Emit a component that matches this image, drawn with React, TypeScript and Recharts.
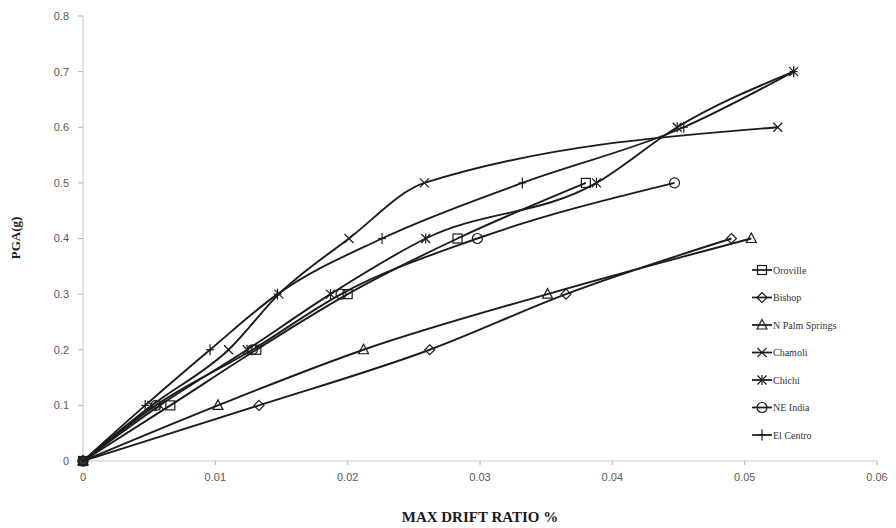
import { LineChart, Line, XAxis, YAxis, Label } from "recharts";

const xTicks = [0, 0.01, 0.02, 0.03, 0.04, 0.05, 0.06];
const yTicks = [0, 0.1, 0.2, 0.3, 0.4, 0.5, 0.6, 0.7, 0.8];

// PGA levels (g) shared by every record, drift ratios
const pga = [0, 0.1, 0.2, 0.3, 0.4, 0.5, 0.6, 0.7];
const orovilleDrift = [0, 0.0066, 0.0131, 0.02, 0.0283, 0.038];
const bishopDrift = [0, 0.0133, 0.0262, 0.0365, 0.049];
const palmSpringsDrift = [0, 0.0102, 0.0212, 0.0351, 0.0505];
const chamoliDrift = [0, 0.0052, 0.011, 0.0148, 0.0201, 0.0258, 0.0525];
const chichiDrift = [0, 0.0058, 0.0124, 0.0187, 0.0259, 0.0388, 0.0449, 0.0537];
const neIndiaDrift = [0, 0.0055, 0.0128, 0.0195, 0.0298, 0.0447];
const elCentroDrift = [0, 0.0047, 0.0096, 0.0147, 0.0226, 0.0332, 0.0454, 0.0537];

type Shape = "square" | "diamond" | "triangle" | "x" | "star" | "circle" | "plus";
type Pt = { x: number; y: number };

const toPts = (drift: number[]): Pt[] => drift.map((d, i) => ({ x: d, y: pga[i] }));

const series: { name: string; shape: Shape; data: Pt[] }[] = [
  { name: "Oroville", shape: "square", data: toPts(orovilleDrift) },
  { name: "Bishop", shape: "diamond", data: toPts(bishopDrift) },
  { name: "N Palm Springs", shape: "triangle", data: toPts(palmSpringsDrift) },
  { name: "Chamoli", shape: "x", data: toPts(chamoliDrift) },
  { name: "Chichi", shape: "star", data: toPts(chichiDrift) },
  { name: "NE India", shape: "circle", data: toPts(neIndiaDrift) },
  { name: "El Centro", shape: "plus", data: toPts(elCentroDrift) },
];

const INK = "#1c1c1c";
const SERIF = "'Liberation Serif', 'DejaVu Serif', serif";
const SANS = "'Liberation Sans Narrow', 'Liberation Sans', sans-serif";

function Marker({ shape, cx, cy }: { shape: Shape; cx: number; cy: number }) {
  const s = { stroke: INK, strokeWidth: 1.2, fill: "none" };
  switch (shape) {
    case "square":
      return <rect x={cx - 4.5} y={cy - 4.5} width={9} height={9} {...s} />;
    case "diamond":
      return <polygon points={`${cx},${cy - 5} ${cx + 5},${cy} ${cx},${cy + 5} ${cx - 5},${cy}`} {...s} />;
    case "triangle":
      return <polygon points={`${cx},${cy - 5.5} ${cx + 5},${cy + 4} ${cx - 5},${cy + 4}`} {...s} />;
    case "circle":
      return <circle cx={cx} cy={cy} r={5} {...s} />;
    case "x":
      return (
        <g {...s}>
          <line x1={cx - 4.5} y1={cy - 4.5} x2={cx + 4.5} y2={cy + 4.5} />
          <line x1={cx - 4.5} y1={cy + 4.5} x2={cx + 4.5} y2={cy - 4.5} />
        </g>
      );
    case "star":
      return (
        <g {...s}>
          <line x1={cx - 4.5} y1={cy - 4.5} x2={cx + 4.5} y2={cy + 4.5} />
          <line x1={cx - 4.5} y1={cy + 4.5} x2={cx + 4.5} y2={cy - 4.5} />
          <line x1={cx} y1={cy - 5} x2={cx} y2={cy + 5} />
        </g>
      );
    case "plus":
      return (
        <g {...s}>
          <line x1={cx} y1={cy - 5.5} x2={cx} y2={cy + 5.5} />
          <line x1={cx - 4} y1={cy} x2={cx + 4} y2={cy} />
        </g>
      );
  }
}

function LegendBox() {
  return (
    <svg width={140} height={190} style={{ position: "absolute", left: 748, top: 258 }}>
      {series.map((s, i) => {
        const y = 12 + i * 27.5;
        return (
          <g key={s.name}>
            <line x1={4} y1={y} x2={24} y2={y} stroke={INK} strokeWidth={1.75} />
            <Marker shape={s.shape} cx={14} cy={y} />
            <text x={25} y={y + 3.5} fontSize={10} fontFamily={SERIF} fill="#333">
              {s.name}
            </text>
          </g>
        );
      })}
    </svg>
  );
}

const fmtTick = (v: number) => String(Number(v.toFixed(2)));

export default function App() {
  return (
    <div style={{ position: "absolute", left: 0, top: 0, width: 896, height: 528, background: "#fff" }}>
      <LineChart width={896} height={528} margin={{ top: 16, right: 19, bottom: 0, left: 0 }}>
        <XAxis
          dataKey="x"
          type="number"
          domain={[0, 0.06]}
          ticks={xTicks}
          tickFormatter={fmtTick}
          height={67}
          axisLine={{ stroke: "#c8c8c8" }}
          tickLine={{ stroke: "#b0b0b0" }}
          tickSize={4}
          tickMargin={8}
          tick={{ fill: "#595959", fontSize: 11, fontFamily: SANS }}
        >
          <Label
            value="MAX DRIFT RATIO %"
            position="insideBottom"
            offset={6}
            style={{ fontSize: 15, fontWeight: "bold", fontFamily: SERIF, fill: "#1a1a1a" }}
          />
        </XAxis>
        <YAxis
          dataKey="y"
          type="number"
          domain={[0, 0.8]}
          ticks={yTicks}
          tickFormatter={fmtTick}
          width={83}
          axisLine={{ stroke: "#c8c8c8" }}
          tickLine={{ stroke: "#b0b0b0" }}
          tickSize={5}
          tickMargin={9}
          tick={{ fill: "#595959", fontSize: 11, fontFamily: SANS }}
        >
          <Label
            content={() => (
              <text
                transform="translate(20,238) rotate(-90)"
                textAnchor="middle"
                fontSize={13}
                fontWeight="bold"
                fontFamily={SERIF}
                fill="#1a1a1a"
              >
                PGA(g)
              </text>
            )}
          />
        </YAxis>
        {series.map(s => (
          <Line
            key={s.name}
            name={s.name}
            data={s.data}
            dataKey="y"
            type="monotone"
            stroke={INK}
            strokeWidth={1.9}
            isAnimationActive={false}
            dot={(p: any) => <Marker key={`${s.name}-${p.index}`} shape={s.shape} cx={p.cx} cy={p.cy} />}
            activeDot={false}
          />
        ))}
      </LineChart>
      <LegendBox />
    </div>
  );
}
